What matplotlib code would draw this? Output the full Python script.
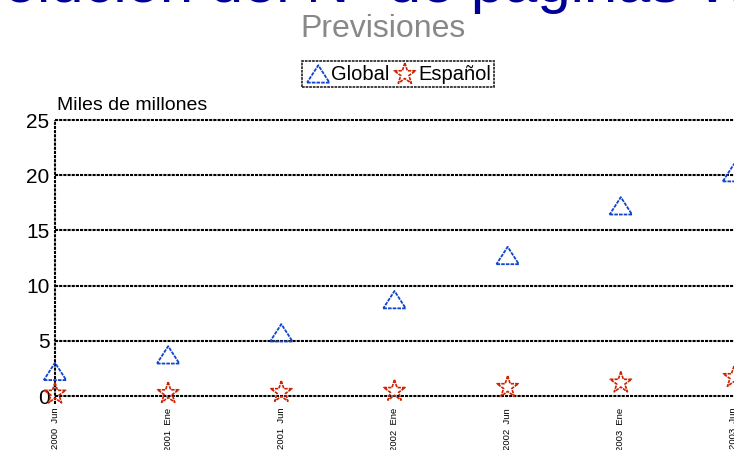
import numpy as np
import matplotlib
matplotlib.use("Agg")
import matplotlib.pyplot as plt

plt.rcParams['font.family'] = ['Liberation Sans', 'DejaVu Sans']

# periods (semesters) and pages indexed, thousands of millions
periodos = ["2000  Jun", "2001  Ene", "2001  Jun", "2002  Ene", "2002  Jun", "2003  Ene", "2003  Jun"]
global_paginas = [2.2, 3.7, 5.7, 8.7, 12.7, 17.2, 20.2]
espanol_paginas = [0.2, 0.25, 0.35, 0.45, 0.8, 1.2, 1.7]
y_ticks = [0, 5, 10, 15, 20, 25]

dashed = (0, (1.5, 0.5))
tri = [(-1, -0.75), (1, -0.75), (0, 0.8), (-1, -0.75)]

fig = plt.figure(figsize=(7.34, 4.5), dpi=100)
ax = fig.add_axes([55 / 734, 54 / 450, 679 / 734, 276 / 450])

x = np.arange(len(periodos))
s1 = ax.scatter(x, global_paginas, marker=tri, s=260, facecolors="none",
                edgecolors="#1144cc", linewidths=1.3, linestyles=(0, (2, 0.6)),
                clip_on=False, zorder=3, label="Global")
s2 = ax.scatter(x, espanol_paginas, marker="*", s=260, facecolors="none",
                edgecolors="#cc2200", linewidths=1.2, linestyles=(0, (2, 0.6)),
                clip_on=False, zorder=3, label="Español")

ax.set_xlim(0, 679 / 113.5)
ax.set_ylim(0, 25)
ax.set_yticks(y_ticks)
ax.set_yticklabels([str(v) for v in y_ticks], fontsize=15)
ax.set_xticks(x)
ax.set_xticklabels(periodos, rotation=90, fontsize=6.8, va="top", ha="center")
ax.tick_params(axis="both", length=0)
ax.tick_params(axis="y", pad=4)
ax.tick_params(axis="x", pad=8.5)

# horizontal grid and left axis line, drawn unclipped
for v in y_ticks:
    ax.axhline(v, color="black", linestyle=dashed, linewidth=1.5, clip_on=False, zorder=1)
ax.plot([0, 0], [-0.7, 25], color="black", linestyle=dashed, linewidth=1.5,
        clip_on=False, zorder=1)
for side in ax.spines:
    ax.spines[side].set_visible(False)

ax.text(0.003, 1.022, "Miles de millones", transform=ax.transAxes, fontsize=14,
        ha="left", va="bottom")

# titles
fig.text(-66 / 734, 1 - 2.5 / 450, "Evolución del Nº de páginas Web", fontsize=43,
         color="#000099", ha="left", va="baseline")
fig.text(383 / 734, 1 - 37 / 450, "Previsiones", fontsize=23, color="#888888",
         ha="center", va="baseline")

leg = fig.legend(handles=[s1, s2], loc="center", bbox_to_anchor=(398 / 734, 1 - 74 / 450),
                 ncol=2, fontsize=14.5, frameon=True, fancybox=False,
                 handletextpad=0.0, columnspacing=0.1, borderpad=0.15,
                 handlelength=1.3, borderaxespad=0)
frame = leg.get_frame()
frame.set_edgecolor("black")
frame.set_linestyle(dashed)
frame.set_linewidth(1.3)

fig.savefig("out.png", dpi=100)
